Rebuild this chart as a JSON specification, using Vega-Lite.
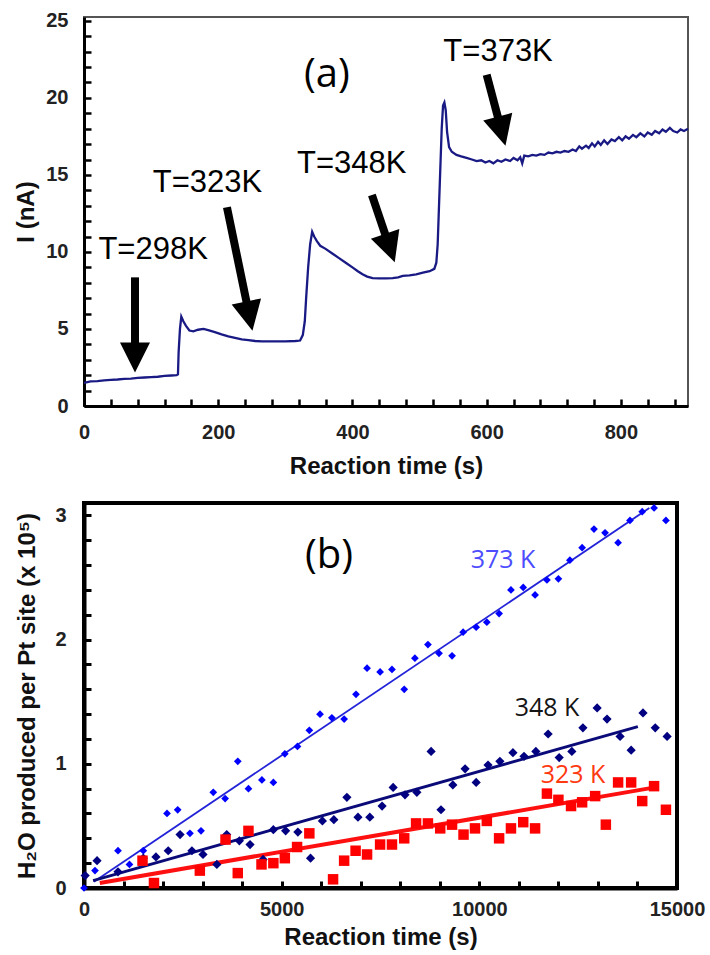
{
  "$schema": "https://vega.github.io/schema/vega-lite/v6.json",
  "background": "white",
  "padding": {"left": 12, "top": 9, "right": 5, "bottom": 2},
  "config": {
    "font": "Liberation Sans",
    "concat": {"spacing": 22},
    "axis": {
      "labelFont": "Liberation Sans", "labelFontWeight": "bold", "labelFontSize": 20, "labelColor": "#222",
      "titleFont": "Liberation Sans", "titleFontWeight": "bold", "titleFontSize": 24, "titleColor": "#111",
      "grid": false, "tickColor": "#000", "domainColor": "#000", "labelOverlap": false, "labelFlush": false
    }
  },
  "datasets": {
    "current": [
      {"t":0,"I":1.5},{"t":5,"I":1.55},{"t":10,"I":1.6},{"t":20,"I":1.62},{"t":30,"I":1.66},{"t":40,"I":1.7},{"t":50,"I":1.72},{"t":60,"I":1.76},{"t":70,"I":1.78},{"t":80,"I":1.82},{"t":90,"I":1.85},{"t":100,"I":1.88},{"t":110,"I":1.9},{"t":120,"I":1.95},{"t":130,"I":1.98},{"t":138,"I":2.0},{"t":140,"I":2.05},
      {"t":141,"I":3.5},{"t":143,"I":5.0},{"t":145,"I":5.8},{"t":148,"I":5.5},{"t":152,"I":5.2},{"t":157,"I":4.9},{"t":163,"I":4.85},{"t":170,"I":4.95},{"t":178,"I":5.0},{"t":185,"I":4.92},{"t":195,"I":4.8},{"t":205,"I":4.65},{"t":215,"I":4.52},{"t":225,"I":4.42},{"t":235,"I":4.33},{"t":245,"I":4.28},{"t":255,"I":4.22},{"t":265,"I":4.2},{"t":280,"I":4.2},{"t":300,"I":4.2},{"t":315,"I":4.22},{"t":322,"I":4.25},
      {"t":326,"I":4.6},{"t":329,"I":5.5},{"t":331,"I":7.0},{"t":334,"I":9.0},{"t":337,"I":10.5},{"t":340,"I":11.3},{"t":343,"I":11.0},{"t":347,"I":10.7},{"t":352,"I":10.4},{"t":360,"I":10.2},{"t":370,"I":9.9},{"t":380,"I":9.6},{"t":390,"I":9.3},{"t":400,"I":9.0},{"t":408,"I":8.75},{"t":415,"I":8.55},{"t":422,"I":8.4},{"t":430,"I":8.3},{"t":440,"I":8.28},{"t":450,"I":8.28},{"t":460,"I":8.3},{"t":468,"I":8.35},{"t":475,"I":8.45},{"t":485,"I":8.48},{"t":495,"I":8.55},{"t":505,"I":8.65},{"t":515,"I":8.75},{"t":522,"I":8.9},
      {"t":525,"I":9.3},{"t":527,"I":10.5},{"t":529,"I":13.0},{"t":531,"I":15.5},{"t":533,"I":18.0},{"t":535,"I":19.5},{"t":537,"I":19.7},{"t":539,"I":19.2},{"t":541,"I":17.8},{"t":544,"I":16.8},{"t":548,"I":16.5},{"t":555,"I":16.3},{"t":562,"I":16.2},{"t":570,"I":16.1},{"t":578,"I":16.0},{"t":585,"I":15.9},{"t":592,"I":15.95},{"t":598,"I":15.8},{"t":604,"I":15.9},{"t":610,"I":15.75},{"t":616,"I":15.95},{"t":622,"I":15.85},{"t":628,"I":16.0},{"t":635,"I":15.9},
      {"t":640,"I":16.1},{"t":646,"I":15.95},{"t":650,"I":16.15},{"t":653,"I":15.75},{"t":656,"I":16.25},{"t":662,"I":16.2},{"t":668,"I":16.3},{"t":674,"I":16.25},{"t":680,"I":16.35},{"t":686,"I":16.3},{"t":692,"I":16.45},{"t":698,"I":16.4},{"t":704,"I":16.5},{"t":710,"I":16.45},{"t":716,"I":16.55},{"t":722,"I":16.5},{"t":728,"I":16.65},{"t":733,"I":16.55},{"t":738,"I":16.85},{"t":742,"I":16.7},{"t":748,"I":16.9},{"t":752,"I":16.75},{"t":757,"I":17.05},{"t":761,"I":16.85},{"t":766,"I":17.15},{"t":770,"I":16.95},{"t":775,"I":17.25},{"t":780,"I":17.0},{"t":786,"I":17.3},{"t":791,"I":17.2},{"t":797,"I":17.45},{"t":802,"I":17.25},{"t":807,"I":17.5},{"t":812,"I":17.35},{"t":818,"I":17.6},{"t":823,"I":17.45},{"t":829,"I":17.7},{"t":835,"I":17.5},{"t":840,"I":17.75},{"t":846,"I":17.6},{"t":851,"I":17.85},{"t":857,"I":17.7},{"t":862,"I":17.95},{"t":867,"I":17.8},{"t":873,"I":18.05},{"t":878,"I":17.85},{"t":884,"I":17.75},{"t":889,"I":17.95},{"t":894,"I":17.85},{"t":900,"I":18.0}
    ],
    "arrows": [
      {"t1":76,"I1":8.35,"t2":76,"I2":3.73,"tt":76,"It":2.17,"ang":0},
      {"t1":213,"I1":12.9,"t2":243.8,"I2":6.41,"tt":251,"It":4.88,"ang":348.3},
      {"t1":429,"I1":13.7,"t2":451.5,"I2":10.8,"tt":463,"It":9.33,"ang":341.3},
      {"t1":600,"I1":21.5,"t2":618.8,"I2":18.41,"tt":628,"It":16.9,"ang":345.1}
    ],
    "labelsA": [
      {"t":103,"I":10.1,"label":"T=298K"},
      {"t":184,"I":14.5,"label":"T=323K"},
      {"t":399,"I":15.7,"label":"T=348K"},
      {"t":617,"I":22.98,"label":"T=373K"}
    ],
    "points": [
      {"T":"373 K","t":0,"v":0.0},{"T":"373 K","t":278,"v":0.14},{"T":"373 K","t":860,"v":0.30},{"T":"373 K","t":1150,"v":0.19},{"T":"373 K","t":1500,"v":0.30},{"T":"373 K","t":2100,"v":0.60},{"T":"373 K","t":2370,"v":0.63},{"T":"373 K","t":2680,"v":0.44},{"T":"373 K","t":2960,"v":0.46},{"T":"373 K","t":3270,"v":0.77},{"T":"373 K","t":3570,"v":0.72},{"T":"373 K","t":3890,"v":1.02},{"T":"373 K","t":4160,"v":0.80},{"T":"373 K","t":4500,"v":0.87},{"T":"373 K","t":4790,"v":0.85},{"T":"373 K","t":5080,"v":1.08},{"T":"373 K","t":5400,"v":1.14},{"T":"373 K","t":5700,"v":1.27},{"T":"373 K","t":5970,"v":1.40},{"T":"373 K","t":6270,"v":1.37},{"T":"373 K","t":6580,"v":1.36},{"T":"373 K","t":6880,"v":1.56},{"T":"373 K","t":7160,"v":1.77},{"T":"373 K","t":7490,"v":1.74},{"T":"373 K","t":7790,"v":1.76},{"T":"373 K","t":8100,"v":1.60},{"T":"373 K","t":8370,"v":1.85},{"T":"373 K","t":8700,"v":1.96},{"T":"373 K","t":8980,"v":1.89},{"T":"373 K","t":9310,"v":1.87},{"T":"373 K","t":9590,"v":2.06},{"T":"373 K","t":9920,"v":2.10},{"T":"373 K","t":10190,"v":2.14},{"T":"373 K","t":10500,"v":2.21},{"T":"373 K","t":10800,"v":2.40},{"T":"373 K","t":11110,"v":2.42},{"T":"373 K","t":11410,"v":2.36},{"T":"373 K","t":11710,"v":2.48},{"T":"373 K","t":12000,"v":2.49},{"T":"373 K","t":12290,"v":2.64},{"T":"373 K","t":12600,"v":2.74},{"T":"373 K","t":12900,"v":2.89},{"T":"373 K","t":13180,"v":2.86},{"T":"373 K","t":13510,"v":2.78},{"T":"373 K","t":13810,"v":2.96},{"T":"373 K","t":14120,"v":3.03},{"T":"373 K","t":14420,"v":3.06},{"T":"373 K","t":14720,"v":2.96},
      {"T":"348 K","t":30,"v":0.10},{"T":"348 K","t":330,"v":0.22},{"T":"348 K","t":860,"v":0.13},{"T":"348 K","t":1500,"v":0.24},{"T":"348 K","t":1820,"v":0.25},{"T":"348 K","t":2130,"v":0.30},{"T":"348 K","t":2430,"v":0.43},{"T":"348 K","t":2730,"v":0.30},{"T":"348 K","t":3010,"v":0.27},{"T":"348 K","t":3360,"v":0.19},{"T":"348 K","t":3610,"v":0.43},{"T":"348 K","t":3930,"v":0.38},{"T":"348 K","t":4200,"v":0.35},{"T":"348 K","t":4530,"v":0.23},{"T":"348 K","t":4790,"v":0.47},{"T":"348 K","t":5100,"v":0.46},{"T":"348 K","t":5410,"v":0.45},{"T":"348 K","t":5730,"v":0.24},{"T":"348 K","t":6030,"v":0.54},{"T":"348 K","t":6320,"v":0.55},{"T":"348 K","t":6650,"v":0.73},{"T":"348 K","t":6930,"v":0.57},{"T":"348 K","t":7230,"v":0.57},{"T":"348 K","t":7540,"v":0.66},{"T":"348 K","t":7820,"v":0.81},{"T":"348 K","t":8120,"v":0.75},{"T":"348 K","t":8420,"v":0.77},{"T":"348 K","t":8780,"v":1.10},{"T":"348 K","t":9030,"v":0.63},{"T":"348 K","t":9330,"v":0.83},{"T":"348 K","t":9640,"v":0.96},{"T":"348 K","t":9920,"v":0.85},{"T":"348 K","t":10220,"v":0.99},{"T":"348 K","t":10520,"v":1.02},{"T":"348 K","t":10850,"v":1.09},{"T":"348 K","t":11130,"v":1.06},{"T":"348 K","t":11430,"v":1.10},{"T":"348 K","t":11740,"v":1.24},{"T":"348 K","t":12020,"v":1.05},{"T":"348 K","t":12340,"v":1.10},{"T":"348 K","t":12620,"v":1.29},{"T":"348 K","t":12980,"v":1.45},{"T":"348 K","t":13230,"v":1.36},{"T":"348 K","t":13560,"v":1.22},{"T":"348 K","t":13840,"v":1.11},{"T":"348 K","t":14140,"v":1.41},{"T":"348 K","t":14450,"v":1.29},{"T":"348 K","t":14750,"v":1.22},
      {"T":"323 K","t":1480,"v":0.22},{"T":"323 K","t":1770,"v":0.04},{"T":"323 K","t":2930,"v":0.14},{"T":"323 K","t":3580,"v":0.39},{"T":"323 K","t":3890,"v":0.12},{"T":"323 K","t":4160,"v":0.46},{"T":"323 K","t":4490,"v":0.19},{"T":"323 K","t":4790,"v":0.20},{"T":"323 K","t":5080,"v":0.24},{"T":"323 K","t":5390,"v":0.33},{"T":"323 K","t":5700,"v":0.44},{"T":"323 K","t":6300,"v":0.07},{"T":"323 K","t":6580,"v":0.22},{"T":"323 K","t":6870,"v":0.30},{"T":"323 K","t":7160,"v":0.27},{"T":"323 K","t":7490,"v":0.35},{"T":"323 K","t":7790,"v":0.35},{"T":"323 K","t":8100,"v":0.40},{"T":"323 K","t":8400,"v":0.52},{"T":"323 K","t":8700,"v":0.52},{"T":"323 K","t":9010,"v":0.48},{"T":"323 K","t":9310,"v":0.51},{"T":"323 K","t":9600,"v":0.43},{"T":"323 K","t":9890,"v":0.48},{"T":"323 K","t":10190,"v":0.54},{"T":"323 K","t":10500,"v":0.40},{"T":"323 K","t":10800,"v":0.48},{"T":"323 K","t":11110,"v":0.53},{"T":"323 K","t":11410,"v":0.48},{"T":"323 K","t":11710,"v":0.76},{"T":"323 K","t":12000,"v":0.71},{"T":"323 K","t":12320,"v":0.66},{"T":"323 K","t":12600,"v":0.69},{"T":"323 K","t":12930,"v":0.74},{"T":"323 K","t":13200,"v":0.51},{"T":"323 K","t":13510,"v":0.85},{"T":"323 K","t":13840,"v":0.85},{"T":"323 K","t":14120,"v":0.70},{"T":"323 K","t":14420,"v":0.82},{"T":"323 K","t":14720,"v":0.63}
    ],
    "fits": [
      {"T":"373 K","t":250,"v":0.05},{"T":"373 K","t":14300,"v":3.06},
      {"T":"348 K","t":230,"v":0.06},{"T":"348 K","t":14010,"v":1.30},
      {"T":"323 K","t":400,"v":0.04},{"T":"323 K","t":14440,"v":0.81}
    ],
    "labelsB": [
      {"t":10600,"v":2.64,"label":"373 K","T":"373 K"},
      {"t":11712,"v":1.449,"label":"348 K","T":"348 K"},
      {"t":12369,"v":0.91,"label":"323 K","T":"323 K"}
    ],
    "panelA": [{"t":362,"I":21.5,"label":"(a)"}],
    "panelB": [{"t":6197,"v":2.67,"label":"(b)"}]
  },
  "vconcat": [
    {
      "width": 604,
      "height": 389,
      "view": {"stroke": "#555", "strokeWidth": 2},
      "layer": [
        {
          "data": {"name": "current"},
          "mark": {"type": "line", "color": "#1a1a85", "strokeWidth": 2.3},
          "encoding": {
            "x": {"field": "t", "type": "quantitative", "title": "Reaction time (s)",
              "scale": {"domain": [0, 900], "nice": false, "zero": false},
              "axis": {"values": [0,40,80,120,160,200,240,280,320,360,400,440,480,520,560,600,640,680,720,760,800,840,880],
                "tickCount": 500,
                "format": "d", "labelExpr": "datum.value % 200 === 0 ? datum.label : ''", "labelOverlap": false,
                "tickSize": -7, "tickWidth": 2.5, "labelPadding": 33, "labelBaseline": "middle",
                "domainWidth": 3, "titleY": 60, "titleBaseline": "middle"}},
            "y": {"field": "I", "type": "quantitative", "title": "I (nA)",
              "scale": {"domain": [0, 25.25], "nice": false},
              "axis": {"values": [0,1,2,3,4,5,6,7,8,9,10,11,12,13,14,15,16,17,18,19,20,21,22,23,24,25],
                "tickCount": 500,
                "format": "d", "labelExpr": "datum.value % 5 === 0 ? datum.label : ''", "labelOverlap": false,
                "tickSize": -7, "tickWidth": 2.5, "labelPadding": 23,
                "domainWidth": 3, "titleX": -58, "titleBaseline": "middle"}}
          }
        },
        {
          "data": {"name": "arrows"},
          "mark": {"type": "rule", "strokeWidth": 8, "color": "black", "strokeCap": "butt"},
          "encoding": {
            "x": {"field": "t1", "type": "quantitative", "title": "Reaction time (s)"},
            "y": {"field": "I1", "type": "quantitative", "title": "I (nA)"},
            "x2": {"field": "t2"},
            "y2": {"field": "I2"}
          }
        },
        {
          "data": {"name": "arrows"},
          "mark": {"type": "point", "shape": "M0,0L-1.5,-3L1.5,-3Z", "filled": true, "color": "black", "opacity": 1, "size": 400},
          "encoding": {
            "x": {"field": "tt", "type": "quantitative", "title": "Reaction time (s)"},
            "y": {"field": "It", "type": "quantitative", "title": "I (nA)"},
            "angle": {"field": "ang", "type": "quantitative", "scale": null}
          }
        },
        {
          "data": {"name": "labelsA"},
          "mark": {"type": "text", "fontSize": 31, "font": "Liberation Sans", "baseline": "middle", "align": "center", "color": "black"},
          "encoding": {
            "x": {"field": "t", "type": "quantitative", "title": "Reaction time (s)"},
            "y": {"field": "I", "type": "quantitative", "title": "I (nA)"},
            "text": {"field": "label"}
          }
        },
        {
          "data": {"name": "panelA"},
          "mark": {"type": "text", "fontSize": 40, "font": "Open Sans", "baseline": "middle", "align": "center", "color": "black"},
          "encoding": {
            "x": {"field": "t", "type": "quantitative", "title": "Reaction time (s)"},
            "y": {"field": "I", "type": "quantitative", "title": "I (nA)"},
            "text": {"field": "label"}
          }
        }
      ]
    },
    {
      "width": 593,
      "height": 385,
      "view": {"stroke": "black", "strokeWidth": 4},
      "layer": [
        {
          "data": {"name": "fits"},
          "mark": {"type": "line"},
          "encoding": {
            "x": {"field": "t", "type": "quantitative", "title": "Reaction time (s)",
              "scale": {"domain": [0, 15000], "nice": false, "zero": false},
              "axis": {"values": [0,1000,2000,3000,4000,5000,6000,7000,8000,9000,10000,11000,12000,13000,14000,15000],
                "tickCount": 500,
                "format": "d", "labelExpr": "datum.value % 5000 === 0 ? datum.label : ''", "labelOverlap": false,
                "tickSize": -7, "tickWidth": 3, "labelPadding": 28, "labelBaseline": "middle",
                "domainWidth": 4, "titleY": 49, "titleBaseline": "middle", "titleFontSize": 24}},
            "y": {"field": "v", "type": "quantitative", "title": "H₂O produced per Pt site (x 10⁵)",
              "scale": {"domain": [0, 3.1], "nice": false},
              "axis": {"values": [0,0.2,0.4,0.6,0.8,1,1.2,1.4,1.6,1.8,2,2.2,2.4,2.6,2.8,3],
                "tickCount": 500,
                "labelExpr": "abs(datum.value - round(datum.value)) < 0.01 ? format(datum.value, 'd') : ''", "labelOverlap": false,
                "tickSize": -7, "tickWidth": 3, "labelPadding": 25,
                "domainWidth": 4, "titleX": -57, "titleBaseline": "middle"}},
            "color": {"field": "T", "type": "nominal", "legend": null,
              "scale": {"domain": ["373 K", "348 K", "323 K"], "range": ["#2323d8", "#0a0a78", "#ff1010"]}},
            "strokeWidth": {"field": "T", "type": "nominal", "legend": null,
              "scale": {"domain": ["373 K", "348 K", "323 K"], "range": [1.8, 4, 3.2]}}
          }
        },
        {
          "data": {"name": "points"},
          "mark": {"type": "point", "filled": true, "opacity": 1},
          "encoding": {
            "x": {"field": "t", "type": "quantitative", "title": "Reaction time (s)"},
            "y": {"field": "v", "type": "quantitative", "title": "H₂O produced per Pt site (x 10⁵)"},
            "color": {"field": "T", "type": "nominal", "legend": null,
              "scale": {"domain": ["373 K", "348 K", "323 K"], "range": ["#0000ff", "#000080", "#ff0000"]}},
            "shape": {"field": "T", "type": "nominal", "legend": null,
              "scale": {"domain": ["373 K", "348 K", "323 K"], "range": ["diamond", "diamond", "square"]}},
            "size": {"field": "T", "type": "nominal", "legend": null,
              "scale": {"domain": ["373 K", "348 K", "323 K"], "range": [60, 110, 42]}}
          }
        },
        {
          "data": {"name": "labelsB"},
          "mark": {"type": "text", "fontSize": 25, "font": "Open Sans", "baseline": "middle", "align": "center"},
          "encoding": {
            "x": {"field": "t", "type": "quantitative", "title": "Reaction time (s)"},
            "y": {"field": "v", "type": "quantitative", "title": "H₂O produced per Pt site (x 10⁵)"},
            "text": {"field": "label"},
            "color": {"field": "T", "type": "nominal", "legend": null,
              "scale": {"domain": ["373 K", "348 K", "323 K"], "range": ["#4d4dff", "#151515", "#ff3a10"]}}
          }
        },
        {
          "data": {"name": "panelB"},
          "mark": {"type": "text", "fontSize": 40, "font": "Open Sans", "baseline": "middle", "align": "center", "color": "black"},
          "encoding": {
            "x": {"field": "t", "type": "quantitative", "title": "Reaction time (s)"},
            "y": {"field": "v", "type": "quantitative", "title": "H₂O produced per Pt site (x 10⁵)"},
            "text": {"field": "label"}
          }
        }
      ],
      "resolve": {"scale": {"color": "independent"}}
    }
  ]
}
